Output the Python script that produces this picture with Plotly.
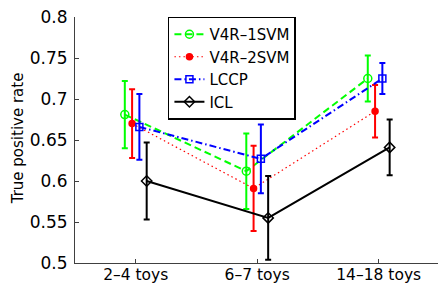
import plotly.graph_objects as go

categories = ["2–4 toys", "6–7 toys", "14–18 toys"]
series_names = ["V4R–1SVM", "V4R–2SVM", "LCCP", "ICL"]
v4r_1svm = [0.681, 0.612, 0.725]
v4r_1svm_err = [0.041, 0.046, 0.028]
v4r_2svm = [0.670, 0.591, 0.685]
v4r_2svm_err = [0.042, 0.052, 0.032]
lccp = [0.666, 0.627, 0.725]
lccp_err = [0.040, 0.042, 0.019]
icl = [0.600, 0.555, 0.641]
icl_err = [0.047, 0.051, 0.034]
y_ticks = [0.5, 0.55, 0.6, 0.65, 0.7, 0.75, 0.8]
y_tick_labels = ["0.5", "0.55", "0.6", "0.65", "0.7", "0.75", "0.8"]

values = [v4r_1svm, v4r_2svm, lccp, icl]
errors = [v4r_1svm_err, v4r_2svm_err, lccp_err, icl_err]
offsets = [-0.09, -0.03, 0.03, 0.09]
colors = ["#00ff00", "#ff0000", "#0000ff", "#000000"]
dashes = ["7px,4px", "1.5px,3px", "7px,3px,1.5px,3px", "solid"]
widths = [2, 1.2, 2, 2]
symbols = ["circle-open", "circle", "square-open", "diamond-open"]
msizes = [8, 6, 7, 8]

font = "DejaVu Sans"
fig = go.Figure()
for name, v, e, off, c, d, w, s, ms in zip(series_names, values, errors, offsets,
                                         colors, dashes, widths, symbols, msizes):
    xs = [i + 1 + off for i in range(len(categories))]
    fig.add_trace(go.Scatter(
        x=xs, y=v, name=name, mode="lines+markers",
        line=dict(color=c, dash=d, width=w),
        marker=dict(symbol=s, size=ms, color=c, line=dict(color=c, width=1.5)),
        error_y=dict(type="data", array=e, visible=True, color=c,
                     thickness=2, width=3),
    ))

fig.update_layout(
    width=438, height=284,
    margin=dict(l=75, r=0, t=17, b=21),
    paper_bgcolor="white", plot_bgcolor="white",
    font=dict(family=font, size=17, color="black"),
    showlegend=True,
    legend=dict(x=0.256, y=1.002, xanchor="left", yanchor="top",
                bgcolor="white", bordercolor="black", borderwidth=1.5,
                font=dict(family=font, size=15), tracegroupgap=0,
                entrywidth=102, entrywidthmode="pixels"),
    xaxis=dict(range=[0.5, 3.488], tickvals=[1, 2, 3], ticktext=categories,
               ticks="inside", ticklen=4, tickcolor="#404040",
               showline=True, linecolor="#404040", linewidth=1,
               showgrid=False, zeroline=False, ticklabelstandoff=-3,
               automargin=False,
               tickfont=dict(family=font, size=15.5)),
    yaxis=dict(range=[0.5, 0.8], tickvals=y_ticks, ticktext=y_tick_labels,
               ticks="inside", ticklen=4, tickcolor="#404040",
               showline=True, linecolor="#404040", linewidth=1,
               showgrid=False, zeroline=False, ticklabelstandoff=3,
               automargin=False,
               tickfont=dict(family=font, size=17)),
    annotations=[dict(text="True positive rate", xref="paper", yref="paper",
                      x=(18 - 75) / 363, y=0.507, textangle=-90,
                      xanchor="center", yanchor="middle",
                      showarrow=False, font=dict(family=font, size=15))],
)
fig.write_html("out.html", config={"displayModeBar": False},
               post_script="document.body.style.margin='0';"
                           "document.body.style.overflow='hidden';")
